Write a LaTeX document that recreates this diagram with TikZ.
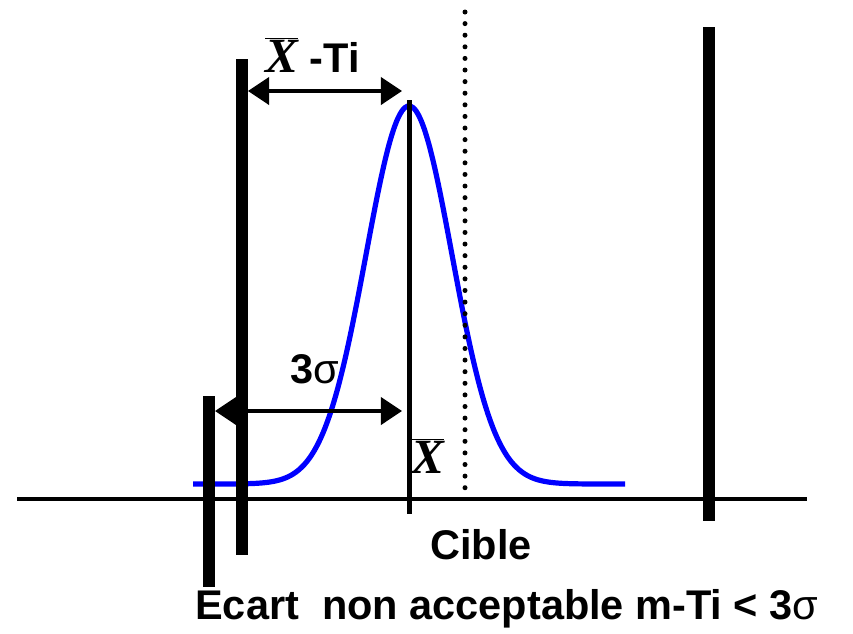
\documentclass[tikz,border=0pt]{standalone}
\usepackage{fontspec}
\setmainfont{Liberation Sans}
\newfontfamily\xserif{Liberation Serif}
\usetikzlibrary{arrows.meta}
\newcommand{\xbarre}{$\overline{\hbox{\fontsize{35}{40}\xserif\bfseries\itshape X}}$}
\begin{document}
\begin{tikzpicture}[x=0.025cm, y=-0.025cm,
    lbl/.style={font=\fontsize{29.5}{34}\selectfont\bfseries, inner sep=0pt},
    limite/.style={line width=0.3cm},
    cote/.style={line width=0.1cm, {Triangle[length=0.53cm,width=0.68cm]}-{Triangle[length=0.53cm,width=0.68cm]}}]
    \useasboundingbox (0,0) rectangle (853,633);

    % courbe de distribution
    \draw[blue, line width=0.13cm] plot[domain=193:625, samples=160, smooth]
        (\x, {484-378*exp(-0.5*((\x-409)/43)^2)});

    % axe
    \draw[line width=0.11cm] (17,499) -- (807,499);

    % cible (pointille)
    \draw[line width=0.125cm, line cap=round, dash pattern=on 0pt off 0.29cm] (465,12) -- (465,497);

    % moyenne
    \draw[line width=0.125cm] (409,100) -- (409,514);

    % limites
    \draw[limite] (242,59) -- (242,555);
    \draw[limite] (209,396) -- (209,587);
    \draw[limite] (709,27) -- (709,521);

    % cotes
    \coordinate (ti) at (248,91);
    \coordinate (xb) at (402,91);
    \coordinate (s0) at (215,411);
    \coordinate (s1) at (402,411);
    \draw[cote] (ti) -- (xb);
    \draw[cote] (s0) -- (s1);

    % textes
    \node[lbl, anchor=base west] (ecart) at (265,72) {\xbarre\ -Ti};
    \node[lbl, anchor=base west] (sigma) at (290,383) {3{\mdseries σ}};
    \node[lbl, anchor=base west] (xmoy) at (411,473) {\xbarre};
    \node[lbl, anchor=base] (cible) at (481,559) {Cible};
    \node[lbl, anchor=base west] (bilan) at (195,619) {Ecart\ \ non acceptable m-Ti < 3{\mdseries σ}};
\end{tikzpicture}
\end{document}
